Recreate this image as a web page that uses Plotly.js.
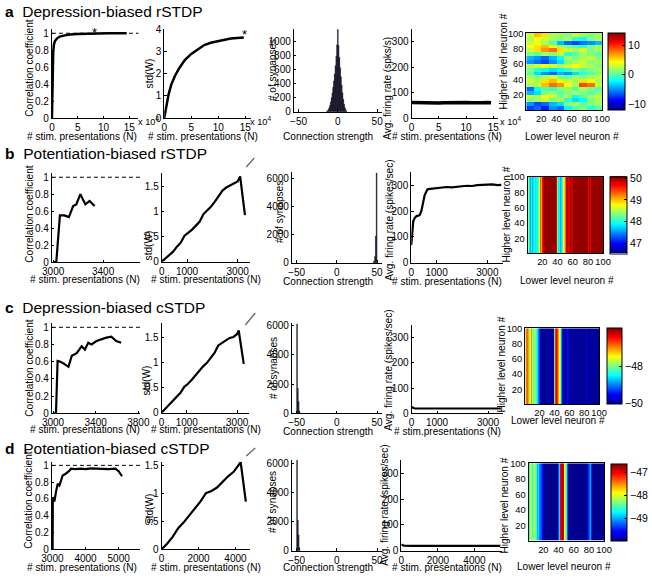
<!DOCTYPE html>
<html>
<head>
<meta charset="utf-8">
<script src="https://cdn.plot.ly/plotly-3.0.1.min.js"></script>
<style>html,body{margin:0;padding:0;background:#fff;}#chart{width:652px;height:578px;}</style>
</head>
<body>
<div id="chart"></div>
<script>
// ================= DATA =================
// Row a : Depression-biased rSTDP  (x in units of 10^4 presentations)
const a_corr_N = [0, 0.05, 0.1, 0.15, 0.25, 0.4, 0.6, 1.0, 1.5, 2.5, 3.5, 5, 7, 9, 11, 13, 14.5];
const a_corr_r = [0, 0.2, 0.45, 0.62, 0.78, 0.87, 0.91, 0.94, 0.96, 0.975, 0.985, 0.99, 0.995, 1.0, 1.0, 1.0, 1.0];
const a_std_N = [0, 0.4, 0.8, 1.3, 2, 2.8, 3.8, 5, 6.2, 7.4, 8.6, 9.9, 11.2, 12.3, 13.5, 14.7];
const a_std_W = [0, 0.55, 1.05, 1.5, 1.9, 2.25, 2.6, 2.88, 3.1, 3.28, 3.38, 3.46, 3.52, 3.57, 3.6, 3.62];
const a_hist_x = [-14, -13, -12, -11, -10, -9, -8, -7, -6, -5, -4, -3, -2, -1, 0, 1, 2, 3, 4, 5, 6, 7, 8, 9, 10, 11];
const a_hist_n = [5, 15, 30, 55, 90, 140, 200, 270, 350, 440, 540, 660, 800, 960, 1180, 950, 780, 630, 500, 380, 270, 180, 110, 60, 30, 10];
const a_rate_N = [0, 1, 2, 3, 4, 5, 6, 7, 8, 9, 10, 11, 12, 13, 14, 14.6];
const a_rate_v = [61, 60, 60, 61, 60, 59, 60, 61, 60, 60, 61, 60, 59, 60, 61, 60];
const a_stars = [[8.3, 1.03], [14.9, 3.86]];
const a_map_xedges = [0.5, 10.5, 20.5, 30.5, 40.5, 50.5, 60.5, 70.5, 80.5, 90.5, 100.5];
const a_map_yedges = [0.5, 5.5, 10.5, 15.5, 20.5, 25.5, 30.5, 35.5, 40.5, 45.5, 50.5, 55.5, 60.5, 65.5, 70.5, 75.5, 80.5, 85.5, 90.5, 95.5, 100.5];
const a_map_z = [
  [-7, -6, -8, -5, -6, -2, 0, 1, -1, 0],
  [-5, -7, -6, -4, -3, 1, 2, 0, 1, 2],
  [1, 2, 3, 1, 2, -1, -3, -2, 1, 2],
  [3, 2, 4, 3, 1, 2, -2, 0, 2, 3],
  [-4, -3, 1, 2, 0, 1, 2, 1, 0, 1],
  [-6, -2, 0, -1, 1, 2, 0, 2, 1, 0],
  [2, 3, 6, 8, 7, 4, 2, 9, 8, 3],
  [3, 2, 5, 6, 4, 3, 2, 5, 4, 2],
  [2, 1, 2, 3, 1, 0, 2, 1, 2, 3],
  [0, -3, -5, -6, -4, -5, -3, -1, 0, 1],
  [1, -1, -2, -3, -2, -1, 1, 0, 1, 2],
  [2, 3, 4, 3, 2, 3, 4, 3, 2, 1],
  [-5, -6, -7, -5, -3, 1, 2, 3, 1, 2],
  [-4, -5, -6, -4, -2, 2, 1, 2, 3, 1],
  [1, 0, 2, 1, 3, -1, 0, 2, 1, 0],
  [3, 5, 7, 8, 5, 3, 2, 3, 1, 2],
  [4, 5, 6, 4, 2, 1, 0, -1, 1, 2],
  [3, 4, 2, 0, -4, -6, -7, -6, -5, -4],
  [2, 4, 3, 2, 1, 2, -1, -2, 1, 2],
  [3, 6, 5, 2, 2, 1, 3, 2, 1, 2]
];

// Row b : Potentiation-biased rSTDP
const b_corr_N = [3000, 3025, 3054, 3090, 3126, 3160, 3185, 3218, 3258, 3292, 3332];
const b_corr_r = [0, 0, 0.55, 0.55, 0.53, 0.66, 0.68, 0.80, 0.68, 0.72, 0.66];
const b_std_N = [0, 150, 300, 450, 600, 750, 900, 1050, 1200, 1350, 1500, 1650, 1800, 1950, 2100, 2250, 2400, 2550, 2700, 2850, 3000, 3100, 3290];
const b_std_W = [0, 0.07, 0.12, 0.2, 0.3, 0.38, 0.52, 0.58, 0.64, 0.72, 0.8, 0.95, 1.02, 1.1, 1.2, 1.3, 1.42, 1.48, 1.52, 1.57, 1.6, 1.7, 0.93];
const b_hist_x = [45.5, 46.5, 47.5, 48.5, 49.5];
const b_hist_n = [40, 120, 450, 1900, 6400];
const b_rate_N = [0, 40, 80, 130, 200, 280, 330, 400, 460, 500, 530, 580, 640, 750, 900, 1000, 1200, 1400, 1600, 1800, 2000, 2200, 2400, 2600, 2800, 3000, 3200, 3400, 3550];
const b_rate_v = [68, 120, 160, 172, 180, 182, 184, 200, 235, 255, 262, 272, 284, 286, 288, 290, 291, 293, 292, 295, 296, 298, 297, 300, 301, 302, 303, 300, 301];
const b_map_col = [48.8, 48.5, 47.8, 47.6, 47.7, 47.9, 47.6, 47.8, 48.6, 48.0,
  47.8, 47.9, 47.7, 47.9, 48.2, 48.6, 48.9, 49.3, 49.0, 49.6,
  49.8, 50, 50, 50, 50, 50, 50, 50, 50, 50,
  50, 50, 50, 50, 50, 50, 50, 50, 49.7, 48.3,
  47.8, 47.7, 47.9, 47.6, 47.8, 48.0, 48.2, 48.7, 48.9, 49.3,
  49.6, 49.8, 49.9, 49.7, 50, 49.8, 50, 49.8, 50, 49.8,
  50, 50, 50, 50, 50, 50, 50, 50, 50, 50,
  50, 50, 50, 50, 50, 50, 50, 50, 50, 49.8,
  49.7, 49.9, 49.7, 49.9, 50, 50, 50, 50, 50, 50,
  50, 50, 50, 50, 50, 50, 50, 50, 50, 50];

// Row c : Depression-biased cSTDP
const c_corr_N = [3000, 3028, 3043, 3070, 3098, 3145, 3176, 3222, 3269, 3299, 3330, 3361, 3408, 3454, 3500, 3547, 3593, 3639];
const c_corr_r = [0, 0, 0.61, 0.6, 0.58, 0.54, 0.67, 0.70, 0.78, 0.74, 0.82, 0.80, 0.84, 0.86, 0.88, 0.89, 0.84, 0.82];
const c_std_N = [0, 150, 300, 450, 600, 750, 900, 1050, 1200, 1350, 1500, 1650, 1800, 1950, 2100, 2250, 2400, 2550, 2700, 2850, 3000, 3060, 3260];
const c_std_W = [0, 0.08, 0.15, 0.22, 0.3, 0.4, 0.52, 0.58, 0.66, 0.75, 0.85, 0.93, 1.0, 1.1, 1.2, 1.35, 1.4, 1.45, 1.5, 1.52, 1.58, 1.65, 0.98];
const c_hist_x = [-49.5, -48.5, -47.5, -46.5];
const c_hist_n = [6100, 1700, 800, 150];
const c_rate_N = [0, 50, 100, 200, 400, 800, 1200, 1600, 2000, 2400, 2800, 3200, 3500];
const c_rate_v = [25, 22, 20, 19, 19, 19, 19, 19, 19, 19, 19, 19, 19];
const c_map_col = [-47.6, -47.4, -46.9, -46.8, -47.1, -47.7, -47.9, -47.6, -47.0, -47.2,
  -47.8, -48.1, -47.9, -47.7, -47.9, -48.3, -48.6, -48.8, -49.0, -49.3,
  -50, -50, -50, -50, -50, -50, -50, -50, -50, -50,
  -50, -50, -50, -50, -50, -50, -50, -50, -50, -48.3,
  -47.2, -46.6, -46.4, -46.6, -46.9, -47.1, -47.5, -47.9, -48.5, -48.9,
  -49.6, -50, -50, -50, -50, -50, -50, -49.5, -49.7, -50,
  -50, -50, -50, -50, -50, -50, -50, -50, -50, -50,
  -50, -50, -50, -50, -50, -50, -50, -50, -50, -50,
  -50, -50, -49.5, -49.7, -50, -50, -50, -50, -50, -50,
  -50, -50, -50, -50, -50, -50, -50, -50, -50, -50];

// Row d : Potentiation-biased cSTDP
const d_corr_N = [3000, 3005, 3012, 3060, 3110, 3160, 3210, 3260, 3310, 3400, 3500, 3560, 3700, 3850, 4000, 4150, 4300, 4500, 4700, 4900, 5000, 5100];
const d_corr_r = [0, 0, 0.62, 0.57, 0.69, 0.78, 0.76, 0.83, 0.88, 0.90, 0.93, 0.96, 0.955, 0.96, 0.955, 0.965, 0.96, 0.96, 0.955, 0.96, 0.93, 0.87];
const d_std_N = [0, 300, 600, 900, 1200, 1500, 1800, 2100, 2400, 2700, 3000, 3300, 3600, 3900, 4200, 4280, 4560];
const d_std_W = [0, 0.1, 0.22, 0.375, 0.48, 0.6, 0.72, 0.85, 1.0, 1.04, 1.1, 1.2, 1.3, 1.38, 1.5, 1.55, 0.85];
const d_hist_x = [-49.5, -48.5, -47.5, -46.5];
const d_hist_n = [6230, 2100, 1080, 200];
const d_rate_N = [0, 50, 150, 300, 600, 1000, 1500, 2000, 2500, 3000, 3500, 4000, 4500, 5000, 5400];
const d_rate_v = [25, 22, 20, 19, 19, 19, 19, 19, 19, 19, 19, 19, 19, 19, 19];
const d_map_col = [-48.8, -48.6, -48.1, -48.2, -48.4, -48.5, -48.3, -47.9, -48.0, -48.4,
  -48.6, -48.9, -49.0, -48.8, -49.1, -49.2, -49.0, -49.3, -49.5, -49.7,
  -49.95, -49.95, -49.95, -49.95, -49.95, -49.95, -49.95, -49.95, -49.95, -49.95,
  -49.95, -49.95, -49.95, -49.95, -49.95, -49.95, -49.95, -49.95, -49.95, -49.3,
  -48.8, -47.6, -47.0, -46.8, -46.7, -46.9, -47.3, -47.9, -48.2, -48.5,
  -48.9, -49.2, -49.95, -49.95, -49.95, -49.95, -49.95, -49.95, -49.95, -49.95,
  -49.95, -49.95, -49.95, -49.95, -49.95, -49.95, -49.95, -49.95, -49.95, -49.95,
  -49.95, -49.95, -49.95, -49.95, -49.95, -49.95, -49.95, -49.95, -49.4, -49.1,
  -49.2, -49.0, -49.4, -49.95, -49.95, -49.95, -49.95, -49.95, -49.95, -49.95,
  -49.95, -49.95, -49.95, -49.95, -49.95, -49.95, -49.95, -49.95, -49.95, -49.95];

const perfect_corr = 1;
const row_titles = [['a', 'Depression-biased rSTDP'], ['b', 'Potentiation-biased rSTDP'], ['c', 'Depression-biased cSTDP'], ['d', 'Potentiation-biased cSTDP']];

// ================= FONT =================
function hasFont(name) {
  const c = document.createElement('canvas').getContext('2d');
  const s = 'abcdefghijklmnopqrstuvwxyz 0123456789';
  c.font = '30px monospace'; const w0 = c.measureText(s).width;
  c.font = '30px "' + name + '", monospace'; const w1 = c.measureText(s).width;
  return Math.abs(w0 - w1) > 1;
}
const NAR = hasFont('Liberation Sans Narrow');
const FAM = NAR ? '"Liberation Sans Narrow", "Liberation Sans", Arial, sans-serif' : '"Liberation Sans", Arial, sans-serif';
const S = NAR ? 1 : 0.84;
const TICK = NAR ? 11.5 : 10;
const HTICK = NAR ? 11 : 9.3;

// ================= LAYOUT HELPERS =================
const W = 652, H = 578;
const JET = [[0, '#00008f'], [0.125, '#0000ff'], [0.375, '#00ffff'], [0.625, '#ffff00'], [0.875, '#ff0000'], [1, '#800000']];
const layout = {
  width: W, height: H, margin: {l: 0, r: 0, t: 0, b: 0},
  paper_bgcolor: '#ffffff', plot_bgcolor: 'rgba(0,0,0,0)', showlegend: false,
  bargap: 0, annotations: [], shapes: [],
  font: {family: FAM, size: TICK, color: '#000'}
};
const traces = [];
let nAx = 0;
function axes(box, xr, yr, xt, yt, heat) {
  nAx++;
  const sfx = nAx === 1 ? '' : String(nAx);
  const [l, r, t, b] = box;
  const common = {
    showline: true, linecolor: '#000', linewidth: 1, showgrid: false, zeroline: false,
    ticks: heat ? '' : 'inside', ticklen: 2.5, tickcolor: '#000', fixedrange: true,
    mirror: heat ? true : false, tickangle: 0, automargin: false,
    tickfont: {family: FAM, size: heat ? HTICK : TICK, color: '#000'}
  };
  layout['xaxis' + sfx] = Object.assign({}, common, {domain: [l / W, r / W], range: xr, tickvals: xt, anchor: 'y' + sfx});
  layout['yaxis' + sfx] = Object.assign({}, common, {domain: [1 - b / H, 1 - t / H], range: yr, tickvals: yt, anchor: 'x' + sfx});
  return {xaxis: 'x' + sfx, yaxis: 'y' + sfx};
}
function line(ax, x, y, w) {
  traces.push(Object.assign({type: 'scatter', mode: 'lines', x: x, y: y, line: {color: '#000', width: w || 2}, hoverinfo: 'skip'}, ax));
}
function dashed(ax) {
  layout.shapes.push({type: 'line', xref: ax.xaxis + ' domain', yref: ax.yaxis, x0: 0, x1: 1, y0: perfect_corr, y1: perfect_corr, line: {color: '#000', width: 1, dash: '4px,3px'}});
}
function hist(ax, x, n) {
  traces.push(Object.assign({type: 'bar', x: x, y: n, width: 1, marker: {color: '#23234f', line: {color: '#000', width: 0.4}}, hoverinfo: 'skip'}, ax));
}
function cbar(l, r, t, b, tv) {
  return {x: l / W, xanchor: 'left', xpad: 0, y: 1 - (t + b) / 2 / H, yanchor: 'middle', ypad: 0,
    len: b - t, lenmode: 'pixels', thickness: r - l, thicknessmode: 'pixels',
    outlinewidth: 1, outlinecolor: '#000', tickvals: tv, ticks: 'inside', ticklen: 3, tickcolor: '#000',
    tickfont: {family: FAM, size: TICK + 0.5, color: '#000'}};
}
function stripeMap(ax, col, zmin, zmax, cb) {
  traces.push(Object.assign({type: 'heatmap', z: [col], x0: 1, dx: 1, y: [0.5, 100.5], zmin: zmin, zmax: zmax,
    colorscale: JET, colorbar: cb, hoverinfo: 'skip', zsmooth: false}, ax));
}
function ann(text, cx, cy, rot, size, anchor) {
  layout.annotations.push({text: text, x: cx / W, y: 1 - cy / H, xref: 'paper', yref: 'paper', showarrow: false,
    textangle: rot ? -90 : 0, font: {family: FAM, size: (size || 12) * S, color: '#000'},
    xanchor: anchor || 'center', yanchor: 'middle'});
}
function pointer(hx, hy, tx, ty) {
  layout.shapes.push({type: 'line', xref: 'paper', yref: 'paper', x0: hx / W, y0: 1 - hy / H, x1: tx / W, y1: 1 - ty / H,
    line: {color: '#666', width: 1.3}});
}
const HT = [20, 40, 60, 80, 100];
const CT = [0, 0.2, 0.4, 0.6, 0.8, 1];

// ================= ROW a =================
let ax = axes([52.5, 140, 29, 118], [0, 16.8], [0, 1.05], [0, 5, 10, 15], CT);
dashed(ax); line(ax, a_corr_N, a_corr_r, 2.5);
layout.annotations.push({text: '*', x: a_stars[0][0], y: a_stars[0][1], xref: ax.xaxis, yref: ax.yaxis, showarrow: false, font: {family: FAM, size: 13, color: '#000'}, yshift: -2});
ax = axes([166, 253.5, 29, 118], [0, 16], [0, 4], [0, 5, 10, 15], [0, 1, 2, 3, 4]);
line(ax, a_std_N, a_std_W, 2.5);
layout.annotations.push({text: '*', x: a_stars[1][0], y: a_stars[1][1], xref: ax.xaxis, yref: ax.yaxis, showarrow: false, font: {family: FAM, size: 13, color: '#000'}, yshift: -2});
ax = axes([297, 386, 29, 111.7], [-56, 56], [0, 1186], [-50, 0, 50], [0, 200, 400, 600, 800, 1000]);
hist(ax, a_hist_x, a_hist_n);
ax = axes([416, 503, 29, 118], [0, 15.8], [0, 350], [0, 5, 10, 15], [0, 100, 200, 300]);
line(ax, a_rate_N, a_rate_v, 3.5);
ax = axes([532, 609, 33, 110], [0.5, 100.5], [0.5, 100.5], HT, HT, true);
traces.push(Object.assign({type: 'heatmap', z: a_map_z, x: a_map_xedges, y: a_map_yedges, zmin: -12, zmax: 14.1,
  colorscale: JET, colorbar: cbar(615, 632, 33, 110, [-10, 0, 10]), hoverinfo: 'skip', zsmooth: false}, ax));

// ================= ROW b =================
ax = axes([52.5, 142, 173, 262], [2990, 3700], [0, 1.05], [3000, 3400], CT);
dashed(ax); line(ax, b_corr_N, b_corr_r, 2.2);
ax = axes([163.5, 253, 173, 261.7], [0, 3500], [0, 1.77], [0, 1000, 3000], [0, 0.5, 1, 1.5]);
line(ax, b_std_N, b_std_W, 2.2);
ax = axes([295, 386, 172.3, 262.7], [-56, 56], [0, 6450], [-50, 0, 50], [0, 2000, 4000, 6000]);
hist(ax, b_hist_x, b_hist_n);
ax = axes([415.7, 508, 172.3, 262.7], [0, 3600], [0, 350], [0, 1000, 3000], [0, 100, 200, 300]);
line(ax, b_rate_N, b_rate_v, 2.2);
ax = axes([533.3, 610, 176.7, 253.3], [0.5, 100.5], [0.5, 100.5], HT, HT, true);
stripeMap(ax, b_map_col, 46.55, 50.07, cbar(617, 634, 176.7, 253.3, [47, 48, 49, 50]));

// ================= ROW c =================
ax = axes([52.5, 142, 323, 413.3], [2990, 3820], [0, 1.05], [3000, 3400, 3800], CT);
dashed(ax); line(ax, c_corr_N, c_corr_r, 2.2);
ax = axes([163.3, 252, 323, 412.7], [0, 3480], [0, 1.8], [0, 1000, 3000], [0, 0.5, 1, 1.5]);
line(ax, c_std_N, c_std_W, 2.2);
ax = axes([295, 386, 323, 413.3], [-56, 56], [0, 6170], [-50, 0, 50], [0, 2000, 4000, 6000]);
hist(ax, c_hist_x, c_hist_n);
ax = axes([416, 508, 325, 413.3], [0, 3570], [0, 350], [0, 1000, 3000], [0, 100, 200, 300]);
line(ax, c_rate_N, c_rate_v, 2.2);
ax = axes([530.7, 606, 328.3, 404], [0.5, 100.5], [0.5, 100.5], HT, HT, true);
stripeMap(ax, c_map_col, -50.05, -45.9, cbar(613.3, 628.3, 328.3, 404, [-50, -48]));

// ================= ROW d =================
ax = axes([52.5, 141.7, 462, 549.3], [2985, 5650], [0, 1.04], [3000, 4000, 5000], CT);
dashed(ax); line(ax, d_corr_N, d_corr_r, 2.2);
ax = axes([163.3, 253, 461.7, 549.3], [0, 4800], [0, 1.56], [0, 2000, 4000], [0, 0.5, 1, 1.5]);
line(ax, d_std_N, d_std_W, 2.2);
ax = axes([295, 386, 460, 550.7], [-56, 56], [0, 6240], [-50, 0, 50], [0, 2000, 4000, 6000]);
hist(ax, d_hist_x, d_hist_n);
ax = axes([405.7, 507, 460.4, 550.7], [0, 5480], [0, 350], [0, 2000, 4000], [0, 100, 200, 300]);
line(ax, d_rate_N, d_rate_v, 2.2);
ax = axes([534.3, 611, 463.3, 540.7], [0.5, 100.5], [0.5, 100.5], HT, HT, true);
stripeMap(ax, d_map_col, -49.95, -46.6, cbar(617.3, 633.3, 463.3, 540.7, [-50, -49, -48, -47]));

// ================= TEXT =================
const rowTitleY = [12, 154, 307, 448];
row_titles.forEach((rt, i) => ann('<b>' + rt[0] + '</b>  ' + rt[1], 3, rowTitleY[i], false, 18.5, 'left'));

const stim = '# stim. presentations (N)';
// row a
ann('Correlation coefficient', 29, 68, true); ann(stim, 83, 136);
ann('std(W)', 151, 73, true); ann(stim, 205, 136);
ann('# of synapses', 276, 70, true); ann('Connection strength', 332, 136);
ann('Avg. firing rate (spks/s)', 391, 88, true); ann(stim, 452, 136);
ann('Higher level neuron #', 509, 62, true); ann('Lower level neuron #', 578, 137);
ann('x 10<sup>4</sup>', 137, 121, false, 11, 'left');
ann('x 10<sup>4</sup>', 251, 121, false, 11, 'left');
ann('x 10<sup>4</sup>', 503, 121, false, 11, 'left');
// row b
ann('Correlation coefficient', 29, 214, true); ann(stim, 86, 279);
ann('std(W)', 151, 245, true); ann(stim, 208, 279);
ann('# of synapses', 282, 212, true); ann('Connection strength', 332, 281);
ann('Avg. firing rate (spikes/sec)', 393, 220, true); ann(stim, 452, 281);
ann('Higher level neuron #', 511, 215, true); ann('Lower level neuron #', 573, 280);
pointer(249, 167, 257, 158);
// row c
ann('Correlation coefficient', 29, 368, true); ann(stim, 86, 429);
ann('std(W)', 148, 380, true); ann(stim, 208, 429);
ann('# of synapses', 276, 368, true); ann('Connection strength', 332, 431);
ann('Avg. firing rate (spikes/sec)', 392, 370, true); ann('# stim.presentations (N)', 452, 431);
ann('Higher level neuron #', 506, 365, true); ann('Lower level neuron #', 564, 421);
pointer(248, 325, 258, 313);
// row d
ann('Correlation coefficient', 28, 500, true); ann(stim, 83, 567);
ann('std(W)', 151, 508, true); ann(stim, 208, 567);
ann('# of synapses', 275, 502, true); ann('Connection strength', 332, 567);
ann('Avg. firing rate (spikes/sec)', 388, 505, true); ann(stim, 452, 567);
ann('Higher level neuron #', 509, 506, true); ann('Lower level neuron #', 570, 566);
pointer(249, 456, 258, 448);

Plotly.newPlot('chart', traces, layout, {staticPlot: true, displayModeBar: false});
</script>
</body>
</html>
